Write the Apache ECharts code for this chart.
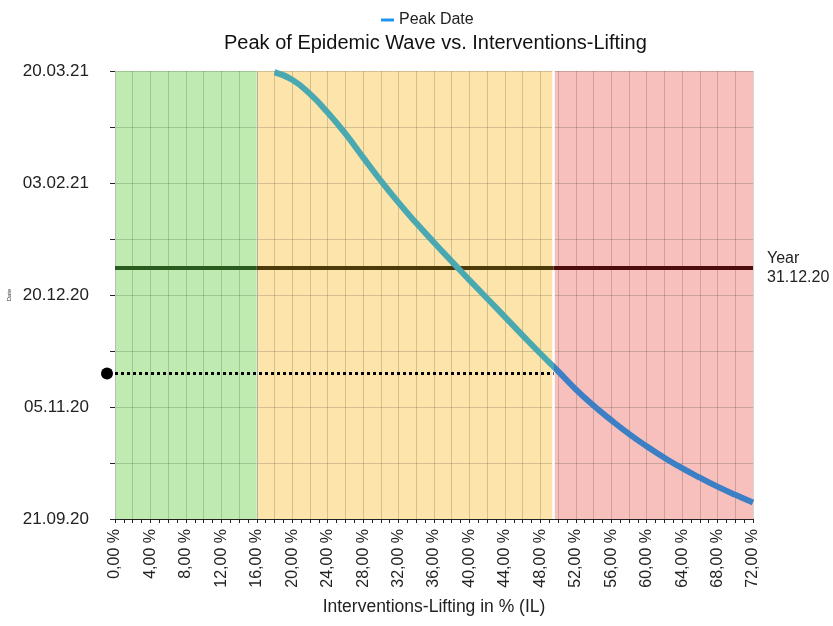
<!DOCTYPE html>
<html>
<head>
<meta charset="utf-8">
<script src="https://cdn.jsdelivr.net/npm/echarts@6/dist/echarts.min.js"></script>
<style>
html,body{margin:0;padding:0;background:#fff;}
#chart{width:833px;height:626px;}
</style>
</head>
<body>
<div id="chart"></div>
<script>
// ---- data ----
const baseDate = '2020-09-21';
const yTickDates = ['2020-09-21', '2020-11-05', '2020-12-20', '2021-02-03', '2021-03-20'];
const liftingPct = [18, 20, 22, 24, 26, 28, 30, 32, 34, 36, 38, 40, 42, 44, 46, 48, 50, 52, 54, 56, 58, 60, 62, 64, 66, 68, 70, 72];
const peakDays =   [179.5, 176.5, 170.8, 163.3, 154.8, 145.3, 135.9, 127.1, 118.9, 111.1, 103.5, 96.0, 88.6, 81.2, 73.8, 66.5, 59.4, 52.1, 45.6, 39.7, 34.2, 29.2, 24.6, 20.4, 16.6, 13.0, 9.7, 6.6];
const bandEdges = [0, 16, 49.5, 72];
const yearEndDate = '2020-12-31';
const yearLabel = 'Year\n31.12.20';
const thresholdDay = 58.5;
const thresholdPct = 49.5;
const seriesName = 'Peak Date';

const DAY = 86400000;
const base = Date.parse(baseDate);
const dayOf = s => (Date.parse(s) - base) / DAY;
const yMin = dayOf(yTickDates[0]);
const yMax = dayOf(yTickDates[yTickDates.length - 1]);
const yStep = dayOf(yTickDates[1]) - dayOf(yTickDates[0]);
const yearDay = dayOf(yearEndDate);
const pad = n => (n < 10 ? '0' : '') + n;
const fmtDate = v => {
  const d = new Date(base + v * DAY);
  return pad(d.getUTCDate()) + '.' + pad(d.getUTCMonth() + 1) + '.' + String(d.getUTCFullYear()).slice(2);
};
const curve = liftingPct.map((x, i) => [x, peakDays[i]]);

const bandColors = ['#c0ebb0', '#fde4aa', '#f7c0bc'];
const yearColors = ['#2b5a1f', '#4d3a0a', '#4d0d0d'];
const TEAL = '#4aa8b0', BLUE = '#3d7fc4';
const FONT = '"Liberation Sans", Arial, Helvetica, sans-serif';

const chart = echarts.init(document.getElementById('chart'));
const gridLine = { lineStyle: { color: 'rgba(0,0,0,0.16)', width: 1 } };

chart.setOption({
  animation: false,
  textStyle: { fontFamily: FONT },
  title: {
    text: 'Peak of Epidemic Wave vs. Interventions-Lifting',
    left: 219, top: 28,
    textStyle: { fontSize: 20, fontWeight: 'normal', color: '#111', fontFamily: FONT }
  },
  legend: {
    data: [{ name: seriesName, itemStyle: { color: '#1e96f0' } }],
    left: 376, top: 7,
    icon: 'rect', itemWidth: 13, itemHeight: 3, itemGap: 6,
    textStyle: { fontSize: 16, color: '#222', fontFamily: FONT }
  },
  grid: { left: 115, right: 80, top: 71, bottom: 107, show: false, outerBoundsMode: 'none', containLabel: false },
  xAxis: {
    type: 'value', min: bandEdges[0], max: bandEdges[3], interval: 2, z: 3,
    name: 'Interventions-Lifting in % (IL)', nameLocation: 'middle', nameGap: 79,
    nameTextStyle: { fontSize: 17.5, color: '#222', fontFamily: FONT },
    axisLine: { show: true, lineStyle: { color: '#222', width: 1 } },
    axisTick: { show: true, length: 4, lineStyle: { color: '#222' } },
    minorTick: { show: true, splitNumber: 2, length: 4, lineStyle: { color: '#222' } },
    splitLine: Object.assign({ show: true }, gridLine),
    axisLabel: {
      rotate: 90, margin: 10, fontSize: 16, color: '#222', fontFamily: FONT,
      formatter: v => (v % 4 === 0 ? v.toFixed(2).replace('.', ',') + ' %' : '')
    }
  },
  yAxis: {
    type: 'value', min: yMin, max: yMax, interval: yStep, z: 3,
    name: 'Date', nameLocation: 'middle', nameRotate: 90, nameGap: 100,
    nameTextStyle: { fontSize: 6, color: '#333', fontFamily: FONT },
    axisLine: { show: true, lineStyle: { color: '#bbb', width: 1 } },
    axisTick: { show: true, length: 5, lineStyle: { color: '#222' } },
    minorTick: { show: true, splitNumber: 2, length: 5, lineStyle: { color: '#222' } },
    splitLine: Object.assign({ show: true }, gridLine),
    minorSplitLine: Object.assign({ show: true }, gridLine),
    axisLabel: { margin: 26, fontSize: 17, color: '#222', fontFamily: FONT, formatter: fmtDate }
  },
  series: [
    {
      name: 'bands', type: 'line', data: [], z: 1, silent: true,
      markArea: {
        silent: true,
        data: bandColors.map((c, i) => [
          { xAxis: bandEdges[i], itemStyle: { color: c, opacity: 1 } },
          { xAxis: bandEdges[i + 1] }
        ])
      }
    },
    {
      name: 'marks', type: 'line', data: [], z: 4, silent: true,
      markLine: {
        silent: true, symbol: 'none', animation: false,
        label: { show: false },
        data: [
          [{ coord: [bandEdges[1], yMin], lineStyle: { color: '#b0b0b0', width: 1, type: 'solid' } },
           { coord: [bandEdges[1], yMax] }],
          [{ coord: [bandEdges[2], yMin], lineStyle: { color: '#ffffff', width: 2.5, type: 'solid' } },
           { coord: [bandEdges[2], yMax] }],
          ...yearColors.map((c, i) => [
            { coord: [bandEdges[i], yearDay], lineStyle: { color: c, width: 4, type: 'solid' },
              label: i === 2 ? { show: true, position: 'end', distance: 14, formatter: yearLabel,
                                 fontSize: 16, lineHeight: 19, color: '#222', align: 'left', fontFamily: FONT }
                             : { show: false } },
            { coord: [bandEdges[i + 1], yearDay] }
          ]),
          [{ coord: [bandEdges[0], thresholdDay], lineStyle: { color: '#000', width: 3, type: [3, 3] } },
           { coord: [thresholdPct, thresholdDay] }]
        ]
      }
    },
    {
      name: seriesName, type: 'line', smooth: true, showSymbol: false, z: 5,
      lineStyle: { width: 6, color: TEAL }, itemStyle: { color: '#1e96f0' },
      data: curve
    },
    {
      name: 'threshold', type: 'scatter', z: 6, clip: false, silent: true,
      symbol: 'circle', symbolSize: 12, symbolOffset: [-8, 0],
      itemStyle: { color: '#000', opacity: 1 },
      data: [[bandEdges[0], thresholdDay]]
    }
  ]
});

// colour the curve teal before the threshold and blue after it (global gradient)
const x0 = chart.convertToPixel({ xAxisIndex: 0 }, liftingPct[0]);
const x1 = chart.convertToPixel({ xAxisIndex: 0 }, liftingPct[liftingPct.length - 1]);
const xt = chart.convertToPixel({ xAxisIndex: 0 }, thresholdPct);
const t = (xt - x0) / (x1 - x0);
chart.setOption({
  series: [{}, {}, {
    lineStyle: {
      color: new echarts.graphic.LinearGradient(x0, 0, x1, 0, [
        { offset: 0, color: TEAL }, { offset: t, color: TEAL },
        { offset: t, color: BLUE }, { offset: 1, color: BLUE }
      ], true)
    }
  }, {}]
});
</script>
</body>
</html>
